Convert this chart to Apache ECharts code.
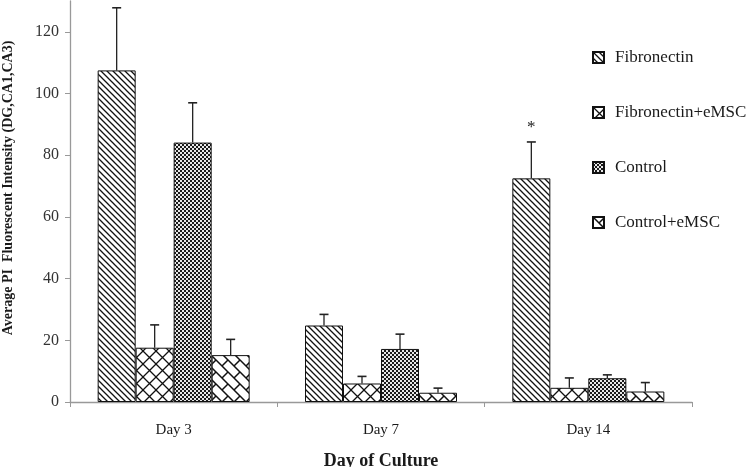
<!DOCTYPE html>
<html>
<head>
<meta charset="utf-8">
<script src="https://cdn.jsdelivr.net/npm/echarts@6/dist/echarts.min.js"></script>
<style>
html,body{margin:0;padding:0;background:#fff;}
#chart{width:752px;height:467px;}
</style>
</head>
<body>
<div id="chart"></div>
<script>
// ---- data ----
var categories = ['Day 3', 'Day 7', 'Day 14'];
var seriesNames = ['Fibronectin', 'Fibronectin+eMSC', 'Control', 'Control+eMSC'];
var fibronectin      = [107.5, 24.8, 72.5];
var fibronectinEmsc  = [17.6, 6.0, 4.6];
var control          = [84.1, 17.2, 7.7];
var controlEmsc      = [15.2, 3.0, 3.4];
// upper end of error bar (mean + error)
var fibronectinErr     = [127.8, 28.4, 84.3];
var fibronectinEmscErr = [25.0, 8.3, 7.8];
var controlErr         = [97.0, 22.0, 8.8];
var controlEmscErr     = [20.3, 4.5, 6.3];
// significance markers
var fibronectinSig = ['', '', '*'];
var yTicks = [0, 20, 40, 60, 80, 100, 120];

var values = [fibronectin, fibronectinEmsc, control, controlEmsc];
var errs = [fibronectinErr, fibronectinEmscErr, controlErr, controlEmscErr];
var sigs = [fibronectinSig, ['', '', ''], ['', '', ''], ['', '', '']];

// ---- patterns ----
function makeCanvas(w, h, draw) {
  var c = document.createElement('canvas');
  c.width = w; c.height = h;
  var ctx = c.getContext('2d');
  ctx.fillStyle = '#fff';
  ctx.fillRect(0, 0, w, h);
  draw(ctx, w, h);
  return c;
}
var patFib = makeCanvas(6, 6, function (ctx, w, h) {
  ctx.strokeStyle = '#111'; ctx.lineWidth = 1.3;
  ctx.beginPath();
  ctx.moveTo(-1, -1); ctx.lineTo(w + 1, h + 1);
  ctx.moveTo(-1, h - 1); ctx.lineTo(1, h + 1);
  ctx.moveTo(w - 1, -1); ctx.lineTo(w + 1, 1);
  ctx.stroke();
});
var patFibE = makeCanvas(13, 13, function (ctx, w, h) {
  ctx.strokeStyle = '#111'; ctx.lineWidth = 1.3;
  ctx.beginPath();
  ctx.moveTo(0, 0); ctx.lineTo(w, h);
  ctx.moveTo(w, 0); ctx.lineTo(0, h);
  ctx.stroke();
});
var patCtrl = makeCanvas(4, 4, function (ctx, w, h) {
  ctx.fillStyle = '#1a1a1a';
  ctx.fillRect(0, 0, w, h);
  ctx.fillStyle = '#e8e8e8';
  ctx.fillRect(0, 0, 2, 2);
  ctx.fillRect(2, 2, 2, 2);
});
var patCtrlE = makeCanvas(12, 12, function (ctx, w, h) {
  ctx.strokeStyle = '#111'; ctx.lineWidth = 1.5;
  ctx.beginPath();
  ctx.moveTo(-1, -1); ctx.lineTo(w + 1, h + 1);
  ctx.moveTo(-1, h - 1); ctx.lineTo(1, h + 1);
  ctx.moveTo(w - 1, -1); ctx.lineTo(w + 1, 1);
  ctx.moveTo(w / 2, h / 2); ctx.lineTo(w + 1, -1);
  ctx.stroke();
});
var patterns = [patFib, patFibE, patCtrl, patCtrlE];

var BAR_W = 38;
var textColor = '#1a1a1a';
var serif = '"Liberation Serif", "Times New Roman", serif';

var series = [];
for (var s = 0; s < 4; s++) {
  series.push({
    name: seriesNames[s],
    type: 'bar',
    data: values[s],
    barWidth: BAR_W,
    barGap: '0%',
    itemStyle: {
      color: { image: patterns[s], repeat: 'repeat' },
      borderColor: '#111',
      borderWidth: 1
    },
    emphasis: { disabled: true },
    z: 2
  });
}

// error bars
var errData = [];
for (var s2 = 0; s2 < 4; s2++) {
  for (var i = 0; i < categories.length; i++) {
    errData.push([i, values[s2][i], errs[s2][i], s2, sigs[s2][i]]);
  }
}
series.push({
  type: 'custom',
  data: errData,
  encode: { x: 0, y: [1, 2] },
  z: 5,
  silent: true,
  renderItem: function (params, api) {
    var cat = api.value(0);
    var sIdx = api.value(3);
    var low = api.coord([cat, api.value(1)]);
    var high = api.coord([cat, api.value(2)]);
    var x = low[0] + (sIdx - 1.5) * BAR_W;
    var capHalf = 4.5;
    var sig = errData[params.dataIndex][4];
    var children = [
      { type: 'line', shape: { x1: x, y1: low[1], x2: x, y2: high[1] }, style: { stroke: '#222', lineWidth: 1.3 } },
      { type: 'line', shape: { x1: x - capHalf, y1: high[1], x2: x + capHalf, y2: high[1] }, style: { stroke: '#222', lineWidth: 1.6 } }
    ];
    if (sig) {
      children.push({
        type: 'text',
        style: { text: sig, x: x, y: high[1] - 6, align: 'center', verticalAlign: 'bottom', fill: '#222', font: '17px ' + serif }
      });
    }
    return { type: 'group', children: children };
  }
});

var chart = echarts.init(document.getElementById('chart'), null, { renderer: 'canvas' });
chart.setOption({
  animation: false,
  backgroundColor: '#fff',
  grid: { left: 70, right: 60, top: 1, bottom: 65, outerBoundsMode: 'none', containLabel: false },
  legend: {
    data: seriesNames.map(function (n) { return { name: n, icon: 'rect' }; }),
    orient: 'vertical',
    left: 587,
    top: 44,
    itemWidth: 11,
    itemHeight: 11,
    itemGap: 38,
    selectedMode: false,
    textStyle: { fontFamily: serif, fontSize: 17, color: textColor, padding: [0, 0, 0, 6] }
  },
  xAxis: {
    type: 'category',
    data: categories,
    axisLine: { lineStyle: { color: '#999', width: 1.3 } },
    axisTick: { show: true, length: 5, lineStyle: { color: '#999' } },
    axisLabel: { fontFamily: serif, fontSize: 15, color: textColor, margin: 21 },
    name: 'Day of Culture',
    nameLocation: 'middle',
    nameGap: 50,
    nameTextStyle: { fontFamily: serif, fontSize: 18, fontWeight: 'bold', color: textColor }
  },
  yAxis: {
    type: 'value',
    min: yTicks[0],
    max: 130,
    interval: 20,
    splitLine: { show: false },
    axisLine: { show: true, lineStyle: { color: '#999', width: 1.3 } },
    axisTick: { show: true, length: 5, lineStyle: { color: '#999' } },
    axisLabel: { fontFamily: serif, fontSize: 16, color: '#333', margin: 11, showMaxLabel: false }
  },
  graphic: [{
    type: 'text',
    x: 8,
    y: 188,
    rotation: Math.PI / 2,
    style: {
      text: 'Average PI  Fluorescent Intensity (DG,CA1,CA3)',
      font: 'bold 14px ' + serif,
      fill: textColor,
      align: 'center',
      verticalAlign: 'middle'
    }
  }],
  series: series
});
</script>
</body>
</html>
